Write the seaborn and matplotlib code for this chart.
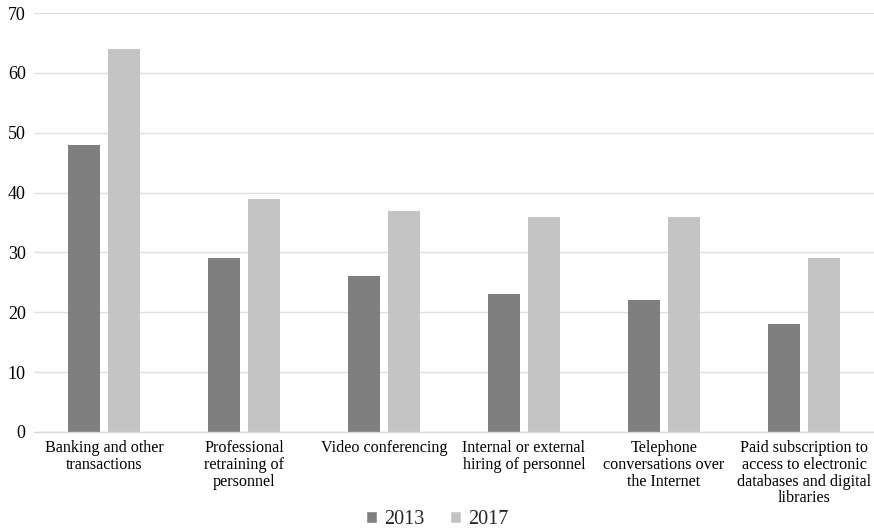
import matplotlib
matplotlib.use("Agg")
import matplotlib.pyplot as plt
import seaborn as sns
import pandas as pd
from matplotlib.patches import Patch

categories = [
    "Banking and other\ntransactions",
    "Professional\nretraining of\npersonnel",
    "Video conferencing",
    "Internal or external\nhiring of personnel",
    "Telephone\nconversations over\nthe Internet",
    "Paid subscription to\naccess to electronic\ndatabases and digital\nlibraries",
]
years = ["2013", "2017"]
values_2013 = [48, 29, 26, 23, 22, 18]
values_2017 = [64, 39, 37, 36, 36, 29]
colors = ["#7f7f7f", "#c4c4c4"]

df = pd.DataFrame({
    "category": categories * 2,
    "year": [years[0]] * len(categories) + [years[1]] * len(categories),
    "value": values_2013 + values_2017,
})

sns.set_theme(style="white")
plt.rcParams["font.family"] = ["Liberation Serif", "DejaVu Serif"]

fig = plt.figure(figsize=(8.74, 5.30), dpi=100)
ax = fig.add_axes([34 / 874, 1 - 432 / 530, 840 / 874, 419 / 530])

sns.barplot(data=df, x="category", y="value", hue="year", palette=colors,
            width=0.58, gap=0.21, ax=ax, legend=False, saturation=1,
            linewidth=0, edgecolor="none")

ax.set_ylim(0, 70)
ax.set_xlim(-0.5, len(categories) - 0.5)
ax.set_yticks(range(0, 71, 10))
ax.yaxis.grid(True, color="#e0e0e0", linewidth=1)
ax.set_axisbelow(True)
for s in ["top", "right", "left"]:
    ax.spines[s].set_visible(False)
ax.spines["bottom"].set_color("#d9d9d9")
ax.spines["bottom"].set_linewidth(1)
ax.set_xlabel("")
ax.set_ylabel("")
ax.tick_params(axis="both", length=0, labelsize=11.6, colors="black")
ax.tick_params(axis="x", pad=6)
ax.tick_params(axis="y", labelsize=13, pad=6)
ax.set_xticks(range(len(categories)))
ax.set_xticklabels(categories, va="top", linespacing=1.05)

handles = [Patch(facecolor=c, label=y) for c, y in zip(colors, years)]
fig.legend(handles=handles, loc="center", bbox_to_anchor=(437 / 874, 1 - 520 / 530),
           ncol=2, frameon=False, fontsize=14.5, handlelength=0.55, handleheight=0.55,
           handletextpad=0.35, columnspacing=1.25)

fig.savefig("out.png", dpi=100)
